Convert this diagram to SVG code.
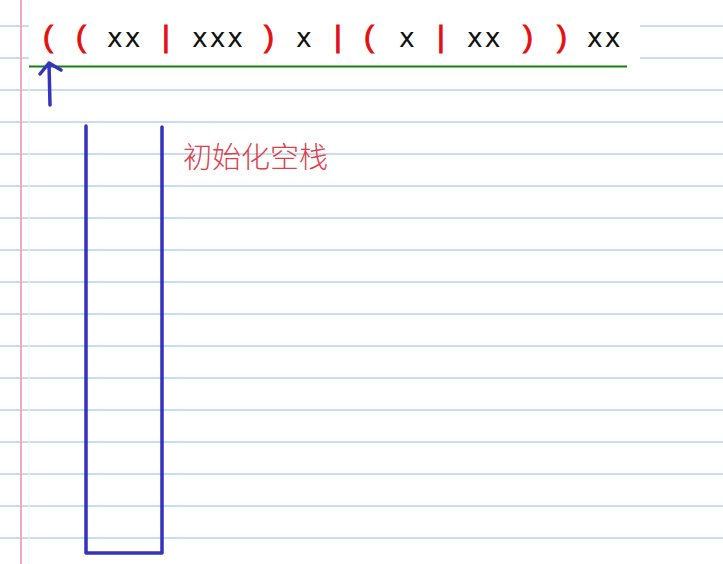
<svg xmlns="http://www.w3.org/2000/svg" width="723" height="564" viewBox="0 0 723 564">
<style>
.rule{stroke:#94b9de;stroke-width:1}
.tok{font-family:"DejaVu Sans",Verdana,sans-serif;font-size:26.5px;letter-spacing:2px;fill:#111}
.red{font-family:"Liberation Sans",Arial,sans-serif;font-size:30px;fill:#e41010;stroke:#e41010;stroke-width:1;text-anchor:middle}
.blue{stroke:#3333bb;stroke-width:3.5;fill:none;stroke-linecap:round;stroke-linejoin:round}
.note{font-family:"Noto Sans CJK SC",sans-serif;font-size:29px;font-weight:300;fill:#e0404a}
</style>
<rect width="723" height="564" fill="#ffffff"/>
<g id="paper">
<line class="rule" x1="0" y1="26" x2="723" y2="26"/>
<line class="rule" x1="0" y1="58" x2="723" y2="58"/>
<line class="rule" x1="0" y1="90" x2="723" y2="90"/>
<line class="rule" x1="0" y1="122" x2="723" y2="122"/>
<line class="rule" x1="0" y1="154" x2="723" y2="154"/>
<line class="rule" x1="0" y1="186" x2="723" y2="186"/>
<line class="rule" x1="0" y1="218" x2="723" y2="218"/>
<line class="rule" x1="0" y1="250" x2="723" y2="250"/>
<line class="rule" x1="0" y1="282" x2="723" y2="282"/>
<line class="rule" x1="0" y1="314" x2="723" y2="314"/>
<line class="rule" x1="0" y1="346" x2="723" y2="346"/>
<line class="rule" x1="0" y1="378" x2="723" y2="378"/>
<line class="rule" x1="0" y1="410" x2="723" y2="410"/>
<line class="rule" x1="0" y1="442" x2="723" y2="442"/>
<line class="rule" x1="0" y1="474" x2="723" y2="474"/>
<line class="rule" x1="0" y1="506" x2="723" y2="506"/>
<line class="rule" x1="0" y1="538" x2="723" y2="538"/>
<line x1="21" y1="0" x2="21" y2="564" stroke="#f0a8c8" stroke-width="2"/>
<line x1="29" y1="0" x2="29" y2="564" stroke="#e4f6fc" stroke-width="1"/>
<rect x="29" y="8" width="611" height="67" fill="#ffffff"/>
</g>
<g id="expression">
<text class="red" x="48" y="47">(</text>
<text class="red" x="81" y="47">(</text>
<text class="tok" x="107" y="47">xx</text>
<text class="red" x="166" y="47">|</text>
<text class="tok" x="192" y="47">xxx</text>
<text class="red" x="269" y="47">)</text>
<text class="tok" x="296" y="47">x</text>
<text class="red" x="338" y="47">|</text>
<text class="red" x="369" y="47">(</text>
<text class="tok" x="399" y="47">x</text>
<text class="red" x="441" y="47">|</text>
<text class="tok" x="467" y="47">xx</text>
<text class="red" x="528" y="47">)</text>
<text class="red" x="562" y="47">)</text>
<text class="tok" x="587" y="47">xx</text>
<line x1="29" y1="66.5" x2="627" y2="66.5" stroke="#128212" stroke-width="2"/>
</g>
<g id="pointer">
<path class="blue" d="M50 105 L49 63 M40 74 L49 63 L61 70" stroke-width="2.5"/>
</g>
<g id="stack">
<path class="blue" d="M86 126 L86 553 L162 553 L162 127"/>
</g>
<g id="label">
<text class="note" x="183" y="168">初始化空栈</text>
</g>
</svg>
